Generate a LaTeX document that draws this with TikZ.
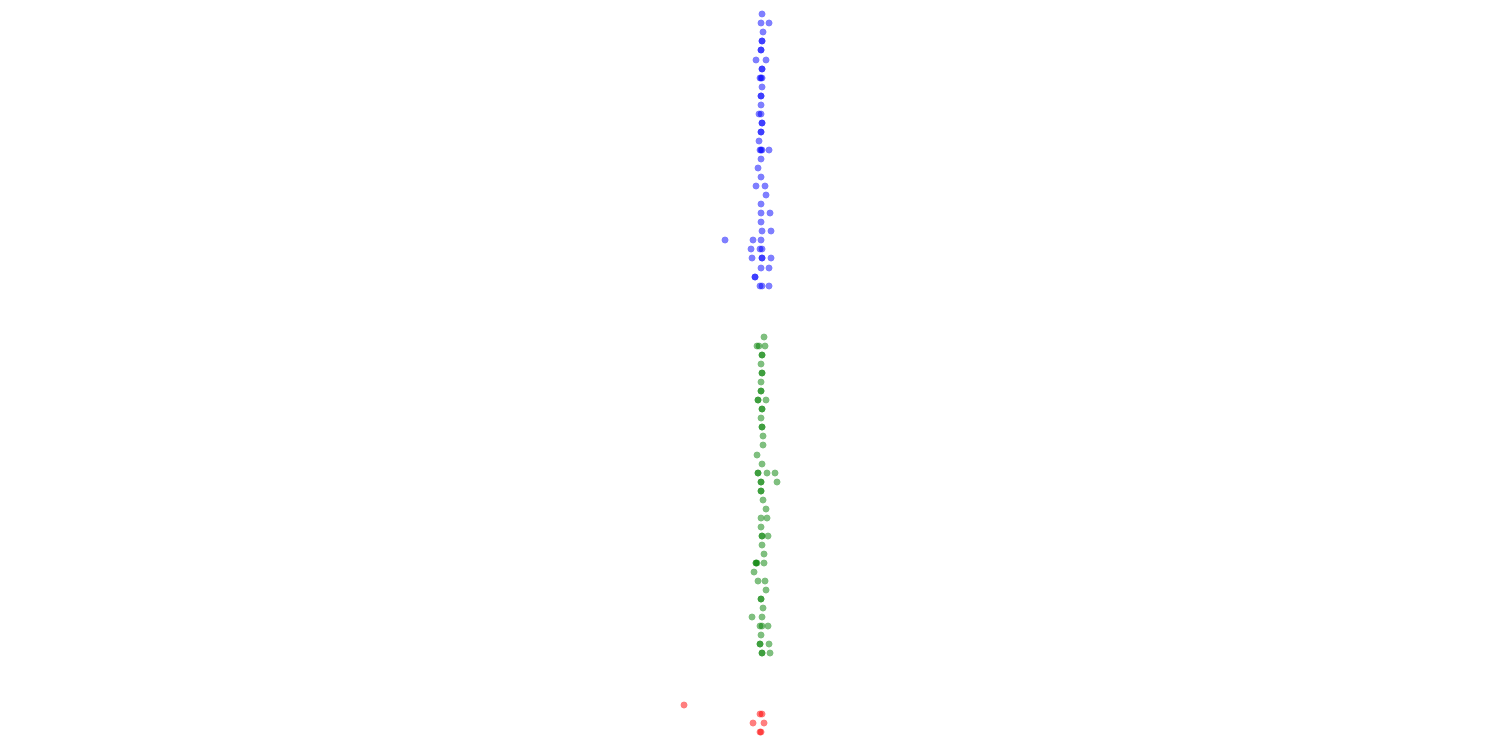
\documentclass[tikz,border=0pt]{standalone}
\usepackage{xcolor}
\usepackage{tikz}
\definecolor{dotBlue}{RGB}{0,0,255}
\definecolor{dotGreen}{RGB}{0,128,0}
\definecolor{dotRed}{RGB}{255,0,0}
\tikzset{
    dot/.style={
        circle,
        fill opacity=0.5,
        draw=none
    }
}

\begin{document}
\begin{tikzpicture}[x=0.02cm, y=-0.02cm]
    \useasboundingbox (0,0) rectangle (1500,750);

    % blue group
    \foreach \px/\py in {762/14, 761/23, 769/23, 763/32, 762/41, 762/41, 761/50, 761/50,
        756/60, 766/60, 762/69, 762/69, 760/78, 762/78, 761/78, 762/87, 761/96, 761/96,
        761/105, 759/114, 761/114, 762/123, 762/123, 761/132, 761/132, 759/141,
        760/150, 762/150, 761/150, 769/150, 761/159, 758/168, 761/177, 756/186, 765/186,
        766/195, 761/204, 761/213, 770/213, 761/222, 762/231, 771/231,
        725/240, 753/240, 761/240, 751/249, 760/249, 762/249, 752/258, 762/258, 762/258, 771/258,
        761/268, 769/268, 755/277, 755/277, 760/286, 762/286, 769/286}
    {
        \fill[dot, dotBlue] (\px,\py) circle (3.5);
    }

    % green group
    \foreach \px/\py in {764/337, 757/346, 759/346, 765/346, 762/355, 762/355, 761/364,
        762/373, 762/373, 761/382, 761/391, 761/391, 758/400, 758/400, 766/400,
        762/409, 762/409, 761/418, 762/427, 762/427, 763/436, 763/445, 757/455, 762/464,
        758/473, 758/473, 767/473, 775/473, 761/482, 761/482, 777/482, 761/491, 761/491,
        763/500, 766/509, 761/518, 767/518, 761/527, 762/536, 762/536, 768/536, 762/545,
        764/554, 756/563, 756/563, 757/563, 764/563, 754/572, 758/581, 765/581, 766/590,
        761/599, 761/599, 763/608, 752/617, 762/617, 760/626, 762/626, 768/626, 761/635,
        760/644, 760/644, 769/644, 762/653, 762/653, 770/653}
    {
        \fill[dot, dotGreen] (\px,\py) circle (3.5);
    }

    % red group
    \foreach \px/\py in {684/705, 760/714, 762/714, 753/723, 764/723, 760/732, 761/732}
    {
        \fill[dot, dotRed] (\px,\py) circle (3.5);
    }
\end{tikzpicture}
\end{document}
